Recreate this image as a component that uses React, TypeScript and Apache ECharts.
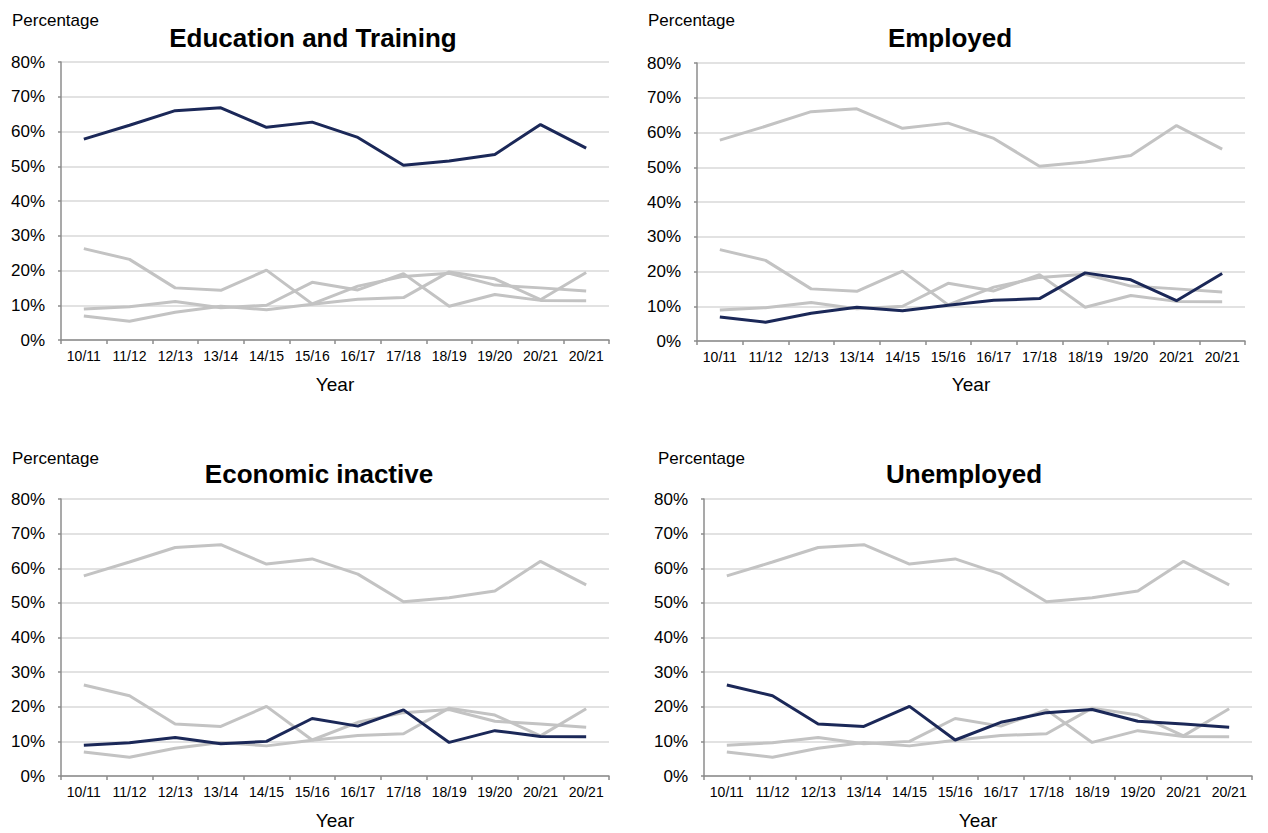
import React, { useEffect, useRef } from "react";
import * as echarts from "echarts";

const years = ["10/11", "11/12", "12/13", "13/14", "14/15", "15/16", "16/17", "17/18", "18/19", "19/20", "20/21", "20/21"];
const education = [57.8, 61.8, 66.0, 66.8, 61.2, 62.7, 58.3, 50.3, 51.5, 53.4, 62.0, 55.2];
const employed = [6.9, 5.4, 8.0, 9.7, 8.7, 10.3, 11.7, 12.2, 19.6, 17.6, 11.6, 19.4];
const inactive = [8.9, 9.6, 11.1, 9.3, 10.0, 16.6, 14.4, 19.1, 9.7, 13.1, 11.4, 11.3];
const unemployed = [26.3, 23.2, 15.0, 14.3, 20.1, 10.4, 15.5, 18.3, 19.2, 15.8, 15.0, 14.1];
const yTicks = [0, 10, 20, 30, 40, 50, 60, 70, 80];

const seriesList = [
  { name: "Education and Training", data: education },
  { name: "Employed", data: employed },
  { name: "Economic inactive", data: inactive },
  { name: "Unemployed", data: unemployed },
];

const DARK = "#1b2858";
const GREY = "#c3c3c3";
const FONT = "Liberation Sans, Arial, sans-serif";

const panels = [
  { left: 61, top: 62, width: 548, height: 278, titleX: 313, titleY: 38, pctX: 12, pctY: 20, yearY: 384 },
  { left: 697, top: 63, width: 548, height: 278, titleX: 950, titleY: 38, pctX: 648, pctY: 20, yearY: 384 },
  { left: 61, top: 499, width: 548, height: 277, titleX: 319, titleY: 474, pctX: 12, pctY: 458, yearY: 820 },
  { left: 704, top: 499, width: 548, height: 277, titleX: 964, titleY: 474, pctX: 658, pctY: 458, yearY: 820 },
];

export default function App() {
  const ref = useRef<HTMLDivElement>(null);
  useEffect(() => {
    document.body.style.margin = "0";
    const chart = echarts.init(ref.current!, null, { renderer: "svg" });
    const grid: any[] = [];
    const xAxis: any[] = [];
    const yAxis: any[] = [];
    const series: any[] = [];
    const graphic: any[] = [];
    panels.forEach((p, i) => {
      grid.push({ left: p.left, top: p.top, width: p.width, height: p.height, containLabel: false });
      xAxis.push({
        type: "category",
        gridIndex: i,
        data: years,
        boundaryGap: true,
        axisLine: { lineStyle: { color: "#8c8c8c", width: 1.5 } },
        axisTick: { show: true, length: 4, lineStyle: { color: "#8c8c8c", width: 1.5 } },
        axisLabel: { interval: 0, color: "#000", fontSize: 14, fontFamily: FONT, margin: 9 },
        splitLine: { show: false },
      });
      yAxis.push({
        type: "value",
        gridIndex: i,
        min: 0,
        max: 80,
        interval: 10,
        axisLine: { show: true, lineStyle: { color: "#8c8c8c", width: 1.5 } },
        axisTick: { show: true, length: 3, lineStyle: { color: "#8c8c8c", width: 1.5 } },
        axisLabel: { color: "#000", fontSize: 17, fontFamily: FONT, margin: 16, formatter: "{value}%" },
        splitLine: { show: true, lineStyle: { color: "#d9d9d9", width: 1.5 } },
      });
      const order = seriesList.map((s, k) => k).filter((k) => k !== i).concat([i]);
      order.forEach((k) => {
        series.push({
          type: "line",
          xAxisIndex: i,
          yAxisIndex: i,
          name: seriesList[k].name,
          data: seriesList[k].data,
          symbol: "none",
          lineStyle: { color: k === i ? DARK : GREY, width: 3 },
          z: k === i ? 5 : 3,
        });
      });
      graphic.push({
        type: "text",
        x: p.titleX,
        y: p.titleY,
        style: { text: seriesList[i].name, fontSize: 26, fontWeight: "bold", fontFamily: FONT, fill: "#000", align: "center", verticalAlign: "middle", textAlign: "center", textVerticalAlign: "middle" },
      });
      graphic.push({
        type: "text",
        x: p.pctX,
        y: p.pctY,
        style: { text: "Percentage", fontSize: 17, fontFamily: FONT, fill: "#000", align: "left", verticalAlign: "middle", textAlign: "left", textVerticalAlign: "middle" },
      });
      graphic.push({
        type: "text",
        x: p.left + p.width / 2,
        y: p.yearY,
        style: { text: "Year", fontSize: 19, fontFamily: FONT, fill: "#000", align: "center", verticalAlign: "middle", textAlign: "center", textVerticalAlign: "middle" },
      });
    });
    chart.setOption({
      animation: false,
      backgroundColor: "#fff",
      grid,
      xAxis,
      yAxis,
      series,
      graphic,
    });
    return () => chart.dispose();
  }, []);
  return <div ref={ref} style={{ width: 1268, height: 833 }} />;
}
